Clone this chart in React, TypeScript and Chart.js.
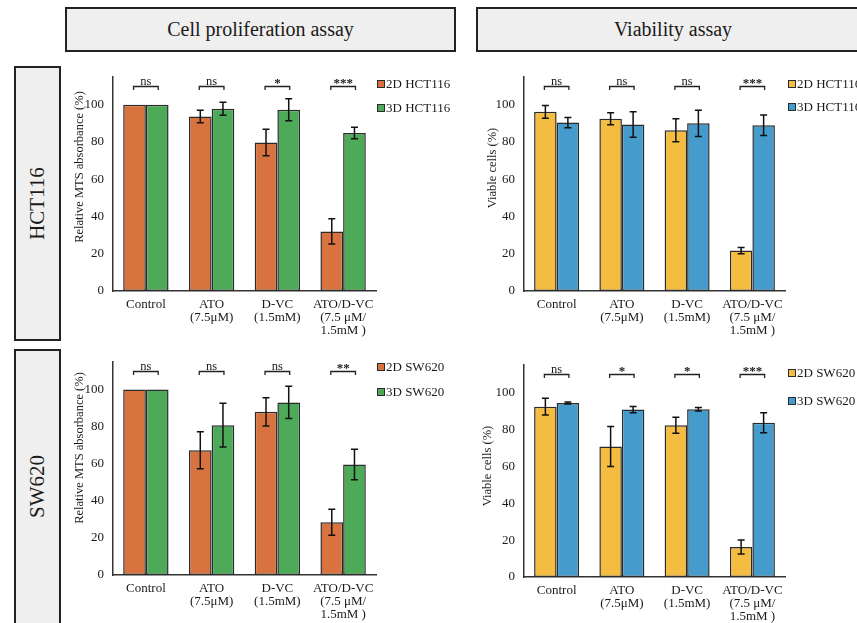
import React, { useEffect, useRef } from "react";
import { Chart, registerables } from "chart.js";

Chart.register(...registerables);

// ---------------- data ----------------
const categories: string[][] = [
  ["Control"],
  ["ATO", "(7.5μM)"],
  ["D-VC", "(1.5mM)"],
  ["ATO/D-VC", "(7.5 μM/", "1.5mM )"],
];
const yTicks = [0, 20, 40, 60, 80, 100];
const yTitleProlif = "Relative MTS absorbance (%)";
const yTitleViab = "Viable cells (%)";

const prolifHCT2D = [100, 93.7, 79.7, 32.0];
const prolifHCT2DErr = [0, 3.4, 7.1, 6.8];
const prolifHCT3D = [100, 97.8, 97.3, 84.8];
const prolifHCT3DErr = [0, 3.5, 5.9, 3.1];
const prolifHCTSig = ["ns", "ns", "*", "***"];

const viabHCT2D = [96.2, 92.5, 86.3, 21.7];
const viabHCT2DErr = [3.4, 3.2, 6.2, 1.7];
const viabHCT3D = [90.4, 89.4, 90.0, 89.0];
const viabHCT3DErr = [2.8, 6.8, 7.0, 5.5];
const viabHCTSig = ["ns", "ns", "ns", "***"];

const prolifSW2D = [100, 67.3, 88.0, 28.5];
const prolifSW2DErr = [0, 10.0, 7.6, 7.0];
const prolifSW3D = [100, 80.8, 93.1, 59.6];
const prolifSW3DErr = [0, 11.8, 8.7, 8.2];
const prolifSWSig = ["ns", "ns", "ns", "**"];

const viabSW2D = [92.4, 70.8, 82.3, 16.3];
const viabSW2DErr = [4.5, 10.8, 4.3, 3.8];
const viabSW3D = [94.4, 90.8, 91.0, 83.7];
const viabSW3DErr = [0.5, 1.7, 0.9, 5.4];
const viabSWSig = ["ns", "*", "*", "***"];

const bracketValue = 110;

// ---------------- style ----------------
const SERIF = "'Liberation Serif', 'Times New Roman', serif";
const ORANGE = "#D8733F";
const GREEN = "#4DAA58";
const YELLOW = "#F4BD41";
const BLUE = "#469BCD";
const EDGE = "#2b2b2b";
const TEXT = "#1a1a1a";

type PanelCfg = {
  x0: number; y0: number; w: number; h: number;
  areaLeft: number; areaTop: number; areaRight: number; areaBottom: number;
  names: string[]; colors: string[];
  s1: number[]; e1: number[]; s2: number[]; e2: number[]; sig: string[];
  yTitle: string; titleX: number; titleY: number;
  legendX: number; legendY: number[];
};

const panels: PanelCfg[] = [
  {
    x0: 62, y0: 60, w: 410, h: 285,
    areaLeft: 113, areaTop: 70, areaRight: 376, areaBottom: 291,
    names: ["2D HCT116", "3D HCT116"], colors: [ORANGE, GREEN],
    s1: prolifHCT2D, e1: prolifHCT2DErr, s2: prolifHCT3D, e2: prolifHCT3DErr, sig: prolifHCTSig,
    yTitle: yTitleProlif, titleX: 80, titleY: 167,
    legendX: 377, legendY: [84, 108],
  },
  {
    x0: 472, y0: 60, w: 385, h: 285,
    areaLeft: 524, areaTop: 70, areaRight: 785, areaBottom: 291,
    names: ["2D HCT116", "3D HCT116"], colors: [YELLOW, BLUE],
    s1: viabHCT2D, e1: viabHCT2DErr, s2: viabHCT3D, e2: viabHCT3DErr, sig: viabHCTSig,
    yTitle: yTitleViab, titleX: 493, titleY: 168,
    legendX: 788, legendY: [84, 107],
  },
  {
    x0: 62, y0: 345, w: 410, h: 278,
    areaLeft: 113, areaTop: 353, areaRight: 376, areaBottom: 575,
    names: ["2D SW620", "3D SW620"], colors: [ORANGE, GREEN],
    s1: prolifSW2D, e1: prolifSW2DErr, s2: prolifSW3D, e2: prolifSW3DErr, sig: prolifSWSig,
    yTitle: yTitleProlif, titleX: 80, titleY: 448,
    legendX: 377, legendY: [367, 392],
  },
  {
    x0: 472, y0: 345, w: 385, h: 278,
    areaLeft: 524, areaTop: 365, areaRight: 785, areaBottom: 577,
    names: ["2D SW620", "3D SW620"], colors: [YELLOW, BLUE],
    s1: viabSW2D, e1: viabSW2DErr, s2: viabSW3D, e2: viabSW3DErr, sig: viabSWSig,
    yTitle: yTitleViab, titleX: 488, titleY: 466,
    legendX: 788, legendY: [373, 401],
  },
];

function Panel({ cfg }: { cfg: PanelCfg }) {
  const ref = useRef<HTMLCanvasElement | null>(null);
  useEffect(() => {
    if (!ref.current) return;
    const c = cfg;
    const errs = [c.e1, c.e2];
    const vals = [c.s1, c.s2];
    const decor = {
      id: "decor",
      afterDatasetsDraw(chart: any) {
        const ctx = chart.ctx;
        const ys = chart.scales.y;
        ctx.save();
        // error bars
        ctx.strokeStyle = "#111";
        ctx.lineWidth = 1.5;
        for (let d = 0; d < 2; d++) {
          const meta = chart.getDatasetMeta(d);
          meta.data.forEach((el: any, i: number) => {
            const e = errs[d][i];
            if (!e) return;
            const v = vals[d][i];
            const yt = ys.getPixelForValue(v + e);
            const yb = ys.getPixelForValue(v - e);
            ctx.beginPath();
            ctx.moveTo(el.x, yt);
            ctx.lineTo(el.x, yb);
            ctx.moveTo(el.x - 3.5, yt);
            ctx.lineTo(el.x + 3.5, yt);
            ctx.moveTo(el.x - 3.5, yb);
            ctx.lineTo(el.x + 3.5, yb);
            ctx.stroke();
          });
        }
        // significance brackets
        const m0 = chart.getDatasetMeta(0);
        const m1 = chart.getDatasetMeta(1);
        const by = Math.round(ys.getPixelForValue(bracketValue)) + 0.5;
        ctx.lineWidth = 1.3;
        ctx.strokeStyle = "#222";
        ctx.fillStyle = TEXT;
        ctx.textAlign = "center";
        c.sig.forEach((s, i) => {
          const x1 = m0.data[i].x - 1;
          const x2 = m1.data[i].x + 1;
          ctx.beginPath();
          ctx.moveTo(x1, by + 3.5);
          ctx.lineTo(x1, by);
          ctx.lineTo(x2, by);
          ctx.lineTo(x2, by + 3.5);
          ctx.stroke();
          ctx.textBaseline = "alphabetic";
          const isStar = s.startsWith("*");
          ctx.font = isStar ? `bold 13px ${SERIF}` : `12.5px ${SERIF}`;
          const ty = isStar ? by + 0.5 : by - 2;
          ctx.fillText(s, (x1 + x2) / 2, ty);
        });
        // y title
        ctx.save();
        ctx.translate(c.titleX - c.x0, c.titleY - c.y0);
        ctx.rotate(-Math.PI / 2);
        ctx.textBaseline = "middle";
        ctx.textAlign = "center";
        ctx.font = `12.5px ${SERIF}`;
        ctx.fillText(c.yTitle, 0, 0);
        ctx.restore();
        // legend
        ctx.font = `13px ${SERIF}`;
        ctx.textAlign = "left";
        ctx.textBaseline = "middle";
        c.names.forEach((n, i) => {
          const lx = c.legendX - c.x0;
          const ly = c.legendY[i] - c.y0;
          ctx.fillStyle = c.colors[i];
          ctx.fillRect(lx + 0.5, ly - 3.5, 7, 7);
          ctx.lineWidth = 1;
          ctx.strokeStyle = EDGE;
          ctx.strokeRect(lx + 0.5, ly - 3.5, 7, 7);
          ctx.fillStyle = TEXT;
          ctx.fillText(n, lx + 9, ly + 1);
        });
        ctx.restore();
      },
    };
    const tickFont = { family: SERIF, size: 13, lineHeight: 1 };
    const yW = c.areaLeft - c.x0;
    const xH = c.y0 + c.h - c.areaBottom;
    const chart = new Chart(ref.current, {
      type: "bar",
      data: {
        labels: categories as any,
        datasets: [0, 1].map((d) => ({
          label: c.names[d],
          data: vals[d],
          backgroundColor: c.colors[d],
          borderColor: EDGE,
          borderWidth: 1.5,
          borderSkipped: false,
          categoryPercentage: 0.69,
          barPercentage: 1,
        })),
      },
      options: {
        animation: false,
        responsive: false,
        events: [],
        layout: {
          padding: {
            left: 0,
            top: c.areaTop - c.y0,
            right: c.x0 + c.w - c.areaRight,
            bottom: 0,
          },
        },
        plugins: { legend: { display: false }, tooltip: { enabled: false } },
        scales: {
          x: {
            grid: { display: false, drawTicks: false },
            border: { display: true, color: "#333", width: 1.5 },
            ticks: { font: tickFont, color: TEXT, padding: 7.5, maxRotation: 0, autoSkip: false },
            afterFit: (s: any) => { s.height = xH; },
          },
          y: {
            min: 0,
            max: 115,
            grid: { display: false, drawTicks: false },
            border: { display: true, color: "#333", width: 1.5 },
            ticks: { font: { family: SERIF, size: 13 }, color: TEXT, padding: 9 },
            afterBuildTicks: (s: any) => { s.ticks = yTicks.map((v) => ({ value: v })); },
            afterFit: (s: any) => { s.width = yW; },
          },
        },
      } as any,
      plugins: [decor],
    });
    return () => chart.destroy();
  }, [cfg]);
  return (
    <canvas
      ref={ref}
      width={cfg.w}
      height={cfg.h}
      style={{ position: "absolute", left: cfg.x0, top: cfg.y0, width: cfg.w, height: cfg.h }}
    />
  );
}

const boxStyle: React.CSSProperties = {
  position: "absolute",
  boxSizing: "border-box",
  background: "#efefef",
  border: "2px solid #222",
  display: "flex",
  alignItems: "center",
  justifyContent: "center",
  fontFamily: SERIF,
  color: TEXT,
};

export default function App() {
  return (
    <div
      style={{
        position: "absolute",
        left: 0,
        top: 0,
        width: 857,
        height: 623,
        overflow: "hidden",
        background: "#ffffff",
      }}
    >
      <div style={{ ...boxStyle, left: 65, top: 7, width: 391, height: 45, fontSize: 20 }}>
        Cell proliferation assay
      </div>
      <div style={{ ...boxStyle, left: 476, top: 7, width: 420, height: 45, fontSize: 20, justifyContent: "flex-start" }}>
        <span style={{ position: "absolute", left: 0, width: 390, textAlign: "center" }}>Viability assay</span>
      </div>
      <div style={{ ...boxStyle, left: 14, top: 66, width: 47, height: 275, fontSize: 21 }}>
        <span style={{ transform: "rotate(-90deg)", whiteSpace: "nowrap" }}>HCT116</span>
      </div>
      <div style={{ ...boxStyle, left: 14, top: 349, width: 47, height: 280, fontSize: 21 }}>
        <span style={{ transform: "rotate(-90deg)", whiteSpace: "nowrap", marginTop: -6 }}>SW620</span>
      </div>
      {panels.map((p, i) => (
        <Panel key={i} cfg={p} />
      ))}
    </div>
  );
}
